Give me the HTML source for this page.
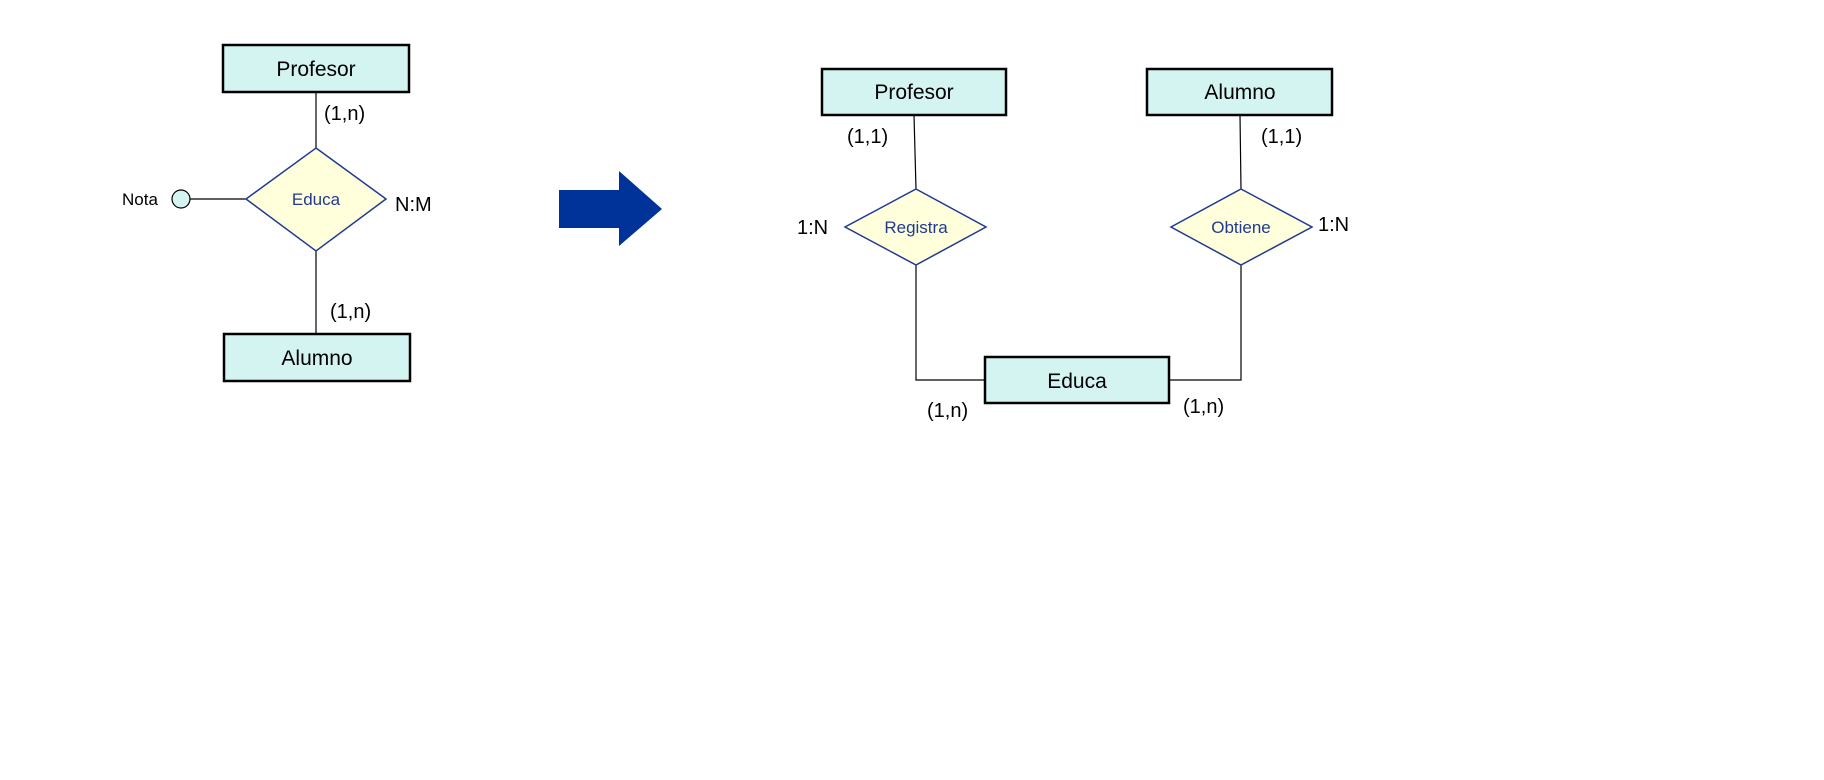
<!DOCTYPE html>
<html><head><style>body{margin:0;background:#fff}</style></head><body>
<svg width="1824" height="775" xmlns="http://www.w3.org/2000/svg" font-family="Liberation Sans, sans-serif">
<g stroke="#000" stroke-width="1.2" fill="none">
<line x1="316" y1="92" x2="316" y2="148"/>
<line x1="316" y1="251" x2="316" y2="334"/>
<line x1="190" y1="199" x2="246" y2="199"/>
<line x1="914" y1="115" x2="916" y2="189"/>
<line x1="1240" y1="115" x2="1241" y2="189"/>
<polyline points="916,265 916,380 985,380"/>
<polyline points="1241,265 1241,380 1169,380"/>
</g>
<g fill="#d4f4f2" stroke="#000" stroke-width="2.5">
<rect x="223" y="45" width="186" height="47"/>
<rect x="224" y="334" width="186" height="47"/>
<rect x="822" y="69" width="184" height="46"/>
<rect x="1147" y="69" width="185" height="46"/>
<rect x="985" y="357" width="184" height="46"/>
</g>
<g fill="#ffffdc" stroke="#1f3a93" stroke-width="1.5">
<polygon points="316,148 386,199 316,251 246,199"/>
<polygon points="916,189 986,227 916,265 845,227"/>
<polygon points="1241,189 1312,227 1241,265 1171,227"/>
</g>
<circle cx="181" cy="199" r="9" fill="#d4f4f2" stroke="#000" stroke-width="1.2"/>
<polygon points="559,190 619,190 619,171 662,209 619,246 619,228 559,228" fill="#003399"/>
<g font-size="21" text-anchor="middle" fill="#000">
<text x="316" y="76">Profesor</text>
<text x="317" y="365">Alumno</text>
<text x="914" y="99">Profesor</text>
<text x="1240" y="99">Alumno</text>
<text x="1077" y="388">Educa</text>
</g>
<g font-size="17" text-anchor="middle" fill="#1f3a93">
<text x="316" y="205">Educa</text>
<text x="916" y="233">Registra</text>
<text x="1241" y="233">Obtiene</text>
</g>
<g font-size="20" fill="#000">
<text x="324" y="120">(1,n)</text>
<text x="330" y="318">(1,n)</text>
<text x="395" y="211">N:M</text>
<text x="847" y="143">(1,1)</text>
<text x="1261" y="143">(1,1)</text>
<text x="797" y="234">1:N</text>
<text x="1318" y="231">1:N</text>
<text x="927" y="417">(1,n)</text>
<text x="1183" y="413">(1,n)</text>
<text x="122" y="205" font-size="17">Nota</text>
</g>
</svg>
</body></html>
